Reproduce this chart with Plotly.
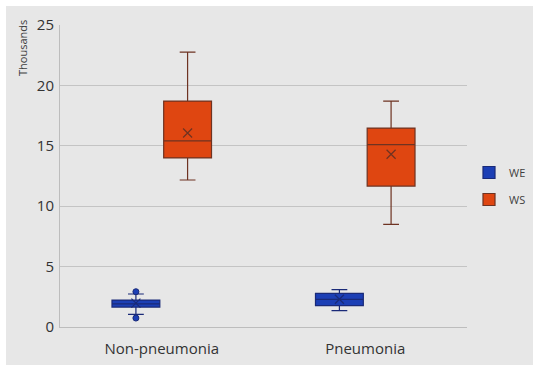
import plotly.graph_objects as go

categories = ["Non-pneumonia", "Pneumonia"]
series = ["WE", "WS"]
# stats in thousands: per series, per category
q1 = {"WE": [1.65, 1.77], "WS": [14.0, 11.67]}
median = {"WE": [1.92, 2.29], "WS": [15.4, 15.1]}
q3 = {"WE": [2.23, 2.79], "WS": [18.7, 16.47]}
lower = {"WE": [1.05, 1.35], "WS": [12.17, 8.5]}
upper = {"WE": [2.73, 3.09], "WS": [22.76, 18.7]}
mean = {"WE": [1.98, 2.3], "WS": [16.06, 14.3]}
outliers = {"WE": [[2.92, 0.74], []], "WS": [[], []]}

fill = {"WE": "#1c3fb5", "WS": "#df4611"}
edge = {"WE": "#1a2a78", "WS": "#6e3322"}
offset = {"WE": -0.127, "WS": 0.127}
box_w = 0.235

W, H = 533, 365
L, R, T, B = 60, 66, 25, 38
pw, ph = W - L - R, H - T - B

fig = go.Figure()
for s in series:
    xs = [i + offset[s] for i in range(len(categories))]
    fig.add_trace(go.Box(
        name=s, x=xs, q1=q1[s], median=median[s], q3=q3[s],
        lowerfence=lower[s], upperfence=upper[s],
        width=box_w, whiskerwidth=0.33, legendgroup=s,
        fillcolor=fill[s], line=dict(color=edge[s], width=1.2),
        boxpoints=False, showlegend=True,
    ))
    fig.add_trace(go.Scatter(
        x=xs, y=mean[s], mode="markers", showlegend=False, hoverinfo="skip", legendgroup=s,
        marker=dict(symbol="x-thin", size=9, line=dict(color=edge[s], width=1.2)),
    ))
    ox, oy = [], []
    for i, vals in enumerate(outliers[s]):
        for v in vals:
            ox.append(i + offset[s]); oy.append(v)
    if ox:
        fig.add_trace(go.Scatter(
            x=ox, y=oy, mode="markers", showlegend=False, hoverinfo="skip", legendgroup=s,
            marker=dict(symbol="circle", size=6, color=fill[s], line=dict(color=edge[s], width=1)),
        ))

fig.update_layout(
    width=W, height=H,
    margin=dict(l=L, r=R, t=T, b=B, autoexpand=False),
    paper_bgcolor="#e7e7e7", plot_bgcolor="#e7e7e7",
    font=dict(family="Open Sans, Noto Sans, sans-serif", color="#404040"),
    legend=dict(xref="container", yref="container", x=469 / W, y=1 - 186 / H,
                xanchor="left", yanchor="middle", font=dict(size=11, color="#404040"),
                bgcolor="rgba(0,0,0,0)", tracegroupgap=8),
    xaxis=dict(range=[-0.5, 1.5], tickmode="array", tickvals=[0, 1], ticktext=categories,
               showgrid=False, zeroline=False, showline=True, linecolor="#bdbdbd",
               tickfont=dict(size=15, color="#333333"), ticks="", automargin=False,
               ticklabelstandoff=8),
    yaxis=dict(range=[0, 25], dtick=5, showgrid=True, gridcolor="#c4c4c4", zeroline=False,
               showline=True, linecolor="#bdbdbd", tickfont=dict(size=15, color="#333333"),
               ticks="", automargin=False, ticklabelstandoff=2),
    shapes=[
        dict(type="rect", xref="paper", yref="paper", x0=-L / pw, x1=1 + R / pw,
             y0=1 + (T - 6) / ph, y1=1 + T / ph, fillcolor="white", line=dict(width=0), layer="above"),
        dict(type="rect", xref="paper", yref="paper", x0=-L / pw, x1=-(L - 6) / pw,
             y0=-B / ph, y1=1 + T / ph, fillcolor="white", line=dict(width=0), layer="above"),
    ],
    annotations=[dict(text="Thousands", textangle=-90, xref="paper", yref="paper",
                      x=-(L - 22) / pw, y=1 + 7 / ph, xanchor="center", yanchor="top", showarrow=False,
                      font=dict(size=11, color="#404040"))],
)
fig.write_html("out.html", config={"displayModeBar": False},
               post_script="document.body.style.margin='0';document.body.style.overflow='hidden';")
